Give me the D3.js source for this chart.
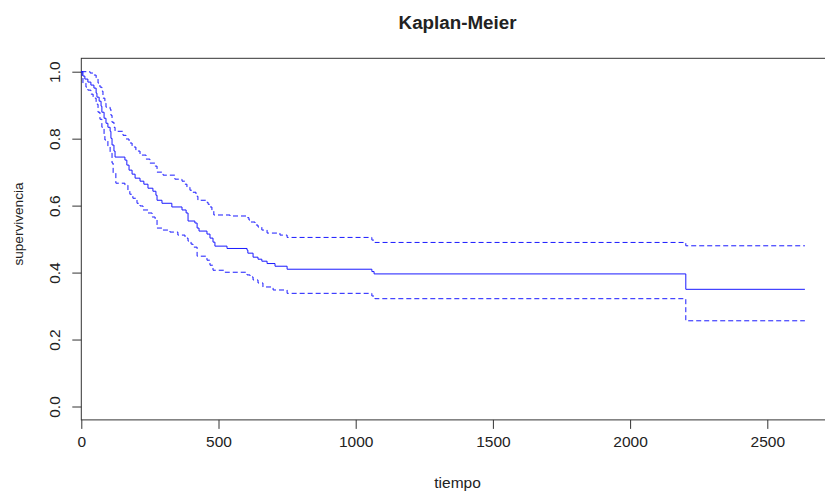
<!DOCTYPE html>
<html>
<head>
<meta charset="utf-8">
<script src="https://cdn.jsdelivr.net/npm/d3@7"></script>
<style>
  body { margin: 0; background: #fff; }
  svg { display: block; }
  text { font-family: "Liberation Sans", Arial, sans-serif; fill: #222; }
</style>
</head>
<body>
<div id="chart"></div>
<script>
// Kaplan-Meier estimate and 95% band as [tiempo, supervivencia]
var kmEstimate = [
  [0, 1.0], [6, 0.987], [13, 0.978], [24, 0.969], [35, 0.960], [46, 0.951], [54, 0.936],
  [57, 0.924], [65, 0.912], [72, 0.897], [75, 0.879], [83, 0.861], [90, 0.846], [97, 0.834],
  [105, 0.822], [108, 0.801], [112, 0.781], [119, 0.763], [123, 0.745], [159, 0.736],
  [166, 0.721], [174, 0.706], [185, 0.694], [196, 0.682], [214, 0.673], [228, 0.664],
  [243, 0.652], [261, 0.643], [272, 0.631], [276, 0.616], [294, 0.607], [330, 0.596],
  [367, 0.587], [382, 0.578], [389, 0.554], [414, 0.548], [422, 0.533], [429, 0.524],
  [458, 0.515], [469, 0.503], [480, 0.491], [487, 0.479], [531, 0.472], [604, 0.467],
  [607, 0.458], [626, 0.446], [644, 0.440], [658, 0.434], [677, 0.427], [706, 0.419],
  [750, 0.410], [1059, 0.403], [1067, 0.396], [2203, 0.350], [2637, 0.350]
];
var kmUpper = [
  [0, 1.0], [32, 0.996], [43, 0.990], [54, 0.978], [61, 0.966], [68, 0.954], [75, 0.942],
  [79, 0.921], [86, 0.906], [90, 0.894], [105, 0.888], [108, 0.870], [112, 0.849],
  [119, 0.834], [123, 0.822], [152, 0.810], [163, 0.799], [174, 0.787], [185, 0.775],
  [199, 0.763], [214, 0.751], [236, 0.739], [250, 0.727], [269, 0.718], [276, 0.700],
  [298, 0.691], [341, 0.679], [367, 0.673], [378, 0.664], [385, 0.655], [396, 0.646],
  [407, 0.640], [418, 0.628], [425, 0.616], [454, 0.610], [462, 0.604], [469, 0.596],
  [476, 0.584], [483, 0.572], [542, 0.569], [604, 0.564], [611, 0.557], [618, 0.551],
  [633, 0.542], [644, 0.536], [658, 0.527], [677, 0.518], [724, 0.512], [750, 0.505],
  [1059, 0.497], [1070, 0.490], [2203, 0.480], [2637, 0.480]
];
var kmLower = [
  [0, 1.0], [3, 0.981], [6, 0.966], [17, 0.954], [24, 0.945], [35, 0.933], [43, 0.921],
  [54, 0.903], [61, 0.879], [68, 0.858], [75, 0.834], [83, 0.813], [86, 0.796], [97, 0.775],
  [105, 0.757], [112, 0.727], [116, 0.697], [126, 0.667], [159, 0.661], [170, 0.646],
  [177, 0.634], [188, 0.622], [203, 0.607], [214, 0.599], [225, 0.587], [243, 0.578],
  [258, 0.566], [269, 0.557], [276, 0.533], [298, 0.527], [323, 0.521], [352, 0.512],
  [378, 0.503], [389, 0.494], [400, 0.485], [407, 0.476], [422, 0.449], [458, 0.437],
  [469, 0.422], [480, 0.407], [524, 0.401], [604, 0.393], [615, 0.387], [626, 0.378],
  [644, 0.369], [662, 0.357], [699, 0.348], [750, 0.338], [1059, 0.330], [1070, 0.322],
  [2203, 0.256], [2637, 0.256]
];
var xTicks = [0, 500, 1000, 1500, 2000, 2500];
var yTicks = [0.0, 0.2, 0.4, 0.6, 0.8, 1.0];

var width = 825, height = 491;
var svg = d3.select("#chart").append("svg")
  .attr("width", width)
  .attr("height", height);

// R style: x starts exactly at 0, upper end padded by 4%; y padded 4% both sides
var xMax = d3.max(kmEstimate, d => d[0]) * 1.04;
var x = d3.scaleLinear().domain([0, 2500]).range([81.3, 767.3]);
var y = d3.scaleLinear().domain([0, 1]).range([406.5, 71.7]);

var boxLeft = x(0), boxRight = x(xMax), boxTop = y(1.04), boxBottom = y(-0.04);

// plot box
svg.append("rect")
  .attr("x", boxLeft).attr("y", boxTop)
  .attr("width", boxRight - boxLeft).attr("height", boxBottom - boxTop)
  .attr("fill", "none").attr("stroke", "#333").attr("stroke-width", 1);

// x axis
var xAxis = svg.append("g").attr("transform", `translate(0,${boxBottom})`)
  .call(d3.axisBottom(x).tickValues(xTicks).tickFormat(d3.format("d")).tickSize(9).tickPadding(7));
xAxis.select(".domain").remove();
xAxis.selectAll("line").attr("stroke", "#333");
xAxis.selectAll("text")
  .attr("font-size", "15.5px")
  .attr("font-family", "Liberation Sans, Arial, sans-serif")
  .attr("fill", "#222");

// y axis with rotated labels
var yAxis = svg.append("g").attr("transform", `translate(${boxLeft},0)`)
  .call(d3.axisLeft(y).tickValues(yTicks).tickFormat(d3.format(".1f")).tickSize(9));
yAxis.select(".domain").remove();
yAxis.selectAll("line").attr("stroke", "#333");
yAxis.selectAll("text")
  .attr("font-size", "15.5px")
  .attr("font-family", "Liberation Sans, Arial, sans-serif")
  .attr("fill", "#222")
  .attr("text-anchor", "middle")
  .attr("dy", null)
  .attr("x", null)
  .attr("transform", "translate(-21,0) rotate(-90)");

// curves
var stepLine = d3.line()
  .x(d => x(d[0]))
  .y(d => y(d[1]))
  .curve(d3.curveStepAfter);

svg.append("path").datum(kmUpper)
  .attr("d", stepLine).attr("fill", "none")
  .attr("stroke", "#1a1aff").attr("stroke-width", 1).attr("stroke-dasharray", "5,3");
svg.append("path").datum(kmLower)
  .attr("d", stepLine).attr("fill", "none")
  .attr("stroke", "#1a1aff").attr("stroke-width", 1).attr("stroke-dasharray", "5,3");
svg.append("path").datum(kmEstimate)
  .attr("d", stepLine).attr("fill", "none")
  .attr("stroke", "#1a1aff").attr("stroke-width", 1);

// titles
var midX = (boxLeft + boxRight) / 2;
svg.append("text")
  .attr("x", midX).attr("y", 29)
  .attr("text-anchor", "middle")
  .style("font-size", "18.8px").style("font-weight", "bold")
  .text("Kaplan-Meier");

svg.append("text")
  .attr("x", midX).attr("y", 488)
  .attr("text-anchor", "middle")
  .style("font-size", "15.5px")
  .text("tiempo");

svg.append("text")
  .attr("transform", "translate(23,224) rotate(-90)")
  .attr("text-anchor", "middle")
  .style("font-size", "13.6px")
  .text("supervivencia");
</script>
</body>
</html>
